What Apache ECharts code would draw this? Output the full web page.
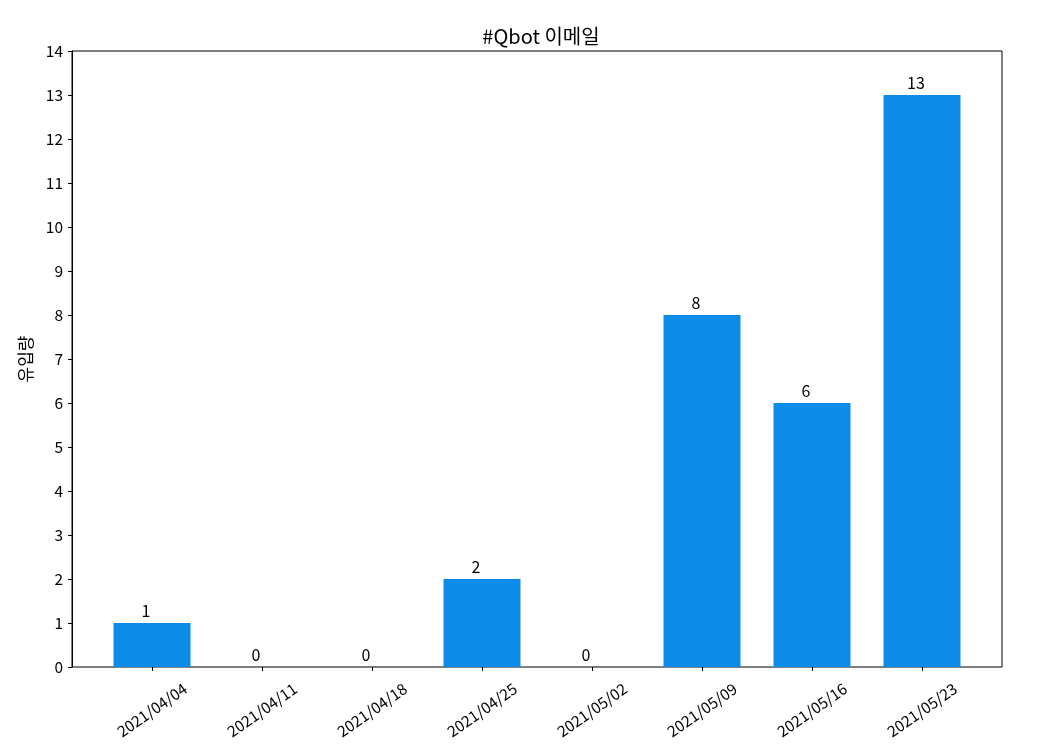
<!DOCTYPE html>
<html>
<head>
<meta charset="utf-8">
<script src="https://cdn.jsdelivr.net/npm/echarts@6/dist/echarts.min.js"></script>
<style>html,body{margin:0;padding:0;background:#fff;}#c{width:1057px;height:751px;}</style>
</head>
<body>
<div id="c"></div>
<script>
var categories = ['2021/04/04','2021/04/11','2021/04/18','2021/04/25','2021/05/02','2021/05/09','2021/05/16','2021/05/23'];
var values = [1, 0, 0, 2, 0, 8, 6, 13];
var titleText = '#Qbot 이메일';
var yName = '유입량';

var font = '"Noto Sans CJK KR", "Noto Sans", sans-serif';
var chart = echarts.init(document.getElementById('c'));
chart.setOption({
  backgroundColor: '#fff',
  animation: false,
  title: {
    text: titleText, left: 536, top: 21, textAlign: 'center',
    textStyle: {fontFamily: font, fontSize: 20, fontWeight: 'normal', color: '#000'}
  },
  grid: [
    {left: 72, right: 55, top: 51, bottom: 84, show: true, borderColor: '#000', borderWidth: 1, backgroundColor: 'transparent'},
    {left: 97, right: 80, top: 51, bottom: 84}
  ],
  xAxis: [
    {gridIndex: 0, type: 'value', min: 0, max: 1, show: false},
    {gridIndex: 1, type: 'category', data: categories,
     axisLine: {show: false},
     axisTick: {show: true, alignWithLabel: true, length: 4, lineStyle: {color: '#000'}},
     axisLabel: {rotate: 35, align: 'center', verticalAlign: 'middle', margin: 43,
                 fontFamily: font, fontSize: 15.5, color: '#000', interval: 0}}
  ],
  yAxis: [
    {gridIndex: 0, type: 'value', min: 0, max: 14, interval: 1,
     name: yName, nameLocation: 'middle', nameGap: 38,
     nameTextStyle: {fontFamily: font, fontSize: 17, color: '#000'},
     axisLine: {show: true, lineStyle: {color: '#000'}},
     axisTick: {show: true, length: 4, lineStyle: {color: '#000'}},
     splitLine: {show: false},
     axisLabel: {fontFamily: font, fontSize: 15.5, color: '#000', margin: 9}},
    {gridIndex: 1, type: 'value', min: 0, max: 14, interval: 1, show: false}
  ],
  series: [{
    type: 'bar', xAxisIndex: 1, yAxisIndex: 1, data: values,
    barWidth: '70%',
    itemStyle: {color: '#0c8ce8'},
    label: {show: true, position: 'top', distance: 4, offset: [-6, 0], fontFamily: font, fontSize: 16, color: '#000'}
  }]
});
</script>
</body>
</html>
